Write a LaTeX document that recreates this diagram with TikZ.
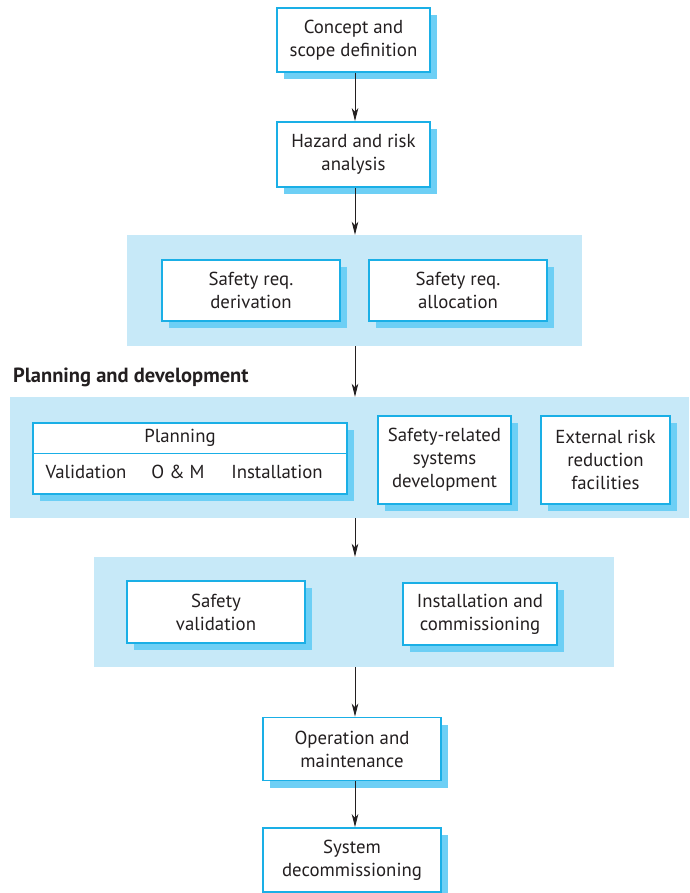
\documentclass[tikz,border=0pt]{standalone}
\usepackage{fontspec}
\setmainfont{PT Sans}
\usetikzlibrary{shadows,arrows.meta}
\definecolor{grpc}{HTML}{C7E9F8}
\definecolor{boxc}{HTML}{1AAFE6}
\definecolor{shadc}{HTML}{6DCFF5}
\definecolor{txtc}{HTML}{231F20}
\tikzset{
  box/.style={draw=boxc, line width=1.6pt, fill=white, align=center,
    inner sep=0pt, text=txtc, font=\fontsize{18.8}{23}\selectfont,
    drop shadow={shadow xshift=7pt, shadow yshift=-7pt, fill=shadc, opacity=1}},
  grp/.style={fill=grpc, draw=none, inner sep=0pt},
  flow/.style={line width=0.9pt, txtc, -{Stealth[length=13pt,width=6.5pt,inset=3.5pt]}},
  lbl/.style={text=txtc, font=\fontsize{18.8}{23}\selectfont, inner sep=0pt}
}
\begin{document}
\begin{tikzpicture}[x=1pt,y=-1pt]
\useasboundingbox (0,0) rectangle (689,893);
% groups
\node[grp, minimum width=455pt, minimum height=111pt] (g1) at (354.5,290.5) {};
\node[grp, minimum width=679pt, minimum height=121pt] (g2) at (349.5,457.5) {};
\node[grp, minimum width=520pt, minimum height=110pt] (g3) at (354,612) {};
% boxes
\node[box, minimum width=153pt, minimum height=64pt] (concept) at (353.5,40) {Concept and\\scope definition};
\node[box, minimum width=153pt, minimum height=65pt] (hazard) at (353.5,154.5) {Hazard and risk\\analysis};
\node[box, minimum width=178pt, minimum height=61pt] (deriv) at (251,290.5) {Safety req.\\derivation};
\node[box, minimum width=178pt, minimum height=61pt] (alloc) at (458,290.5) {Safety req.\\allocation};
\node[anchor=west, text=txtc, font=\fontsize{20.5}{22}\selectfont\bfseries, inner sep=0pt] (title) at (13,377) {Planning and development};
\node[box, minimum width=314pt, minimum height=71pt] (plan) at (190,458.5) {};
\draw[boxc, line width=1pt] (plan.west |- 0,453) -- (plan.east |- 0,453);
\node[lbl] (ptitle) at (180,438) {Planning};
\node[lbl] (pval) at (86,472) {Validation};
\node[lbl] (pom) at (178,472) {O \& M};
\node[lbl] (pinst) at (277,472) {Installation};
\node[box, minimum width=133pt, minimum height=88pt] (srsd) at (444.5,460) {Safety-related\\systems\\development};
\node[box, minimum width=129pt, minimum height=88pt] (ext) at (605.5,460) {External risk\\reduction\\facilities};
\node[box, minimum width=178pt, minimum height=62pt] (sval) at (216,612) {Safety\\validation};
\node[box, minimum width=154pt, minimum height=62pt] (inst) at (480,614) {Installation and\\commissioning};
\node[box, minimum width=178pt, minimum height=63pt] (opm) at (352,749) {Operation and\\maintenance};
\node[box, minimum width=178pt, minimum height=64pt] (decom) at (352,860) {System\\decommissioning};
% arrows
\draw[flow] (concept.south -| 355,0) -- (hazard.north -| 355,0);
\draw[flow] (hazard.south -| 355,0) -- (g1.north -| 355,0);
\draw[flow] (g1.south -| 355,0) -- (g2.north -| 355,0);
\draw[flow] (g2.south -| 355,0) -- (g3.north -| 355,0);
\draw[flow] (g3.south -| 355,0) -- (opm.north -| 355,0);
\draw[flow] (opm.south -| 355,0) -- (decom.north -| 355,0);
\end{tikzpicture}
\end{document}
